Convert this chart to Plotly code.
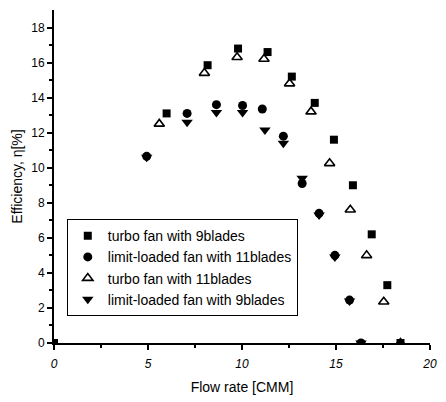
import plotly.graph_objects as go

# turbo fan with 9 blades (filled squares)
turbo9_x = [0.0, 5.99, 8.17, 9.79, 11.36, 12.65, 13.87, 14.89, 15.9, 16.9, 17.73, 18.43]
turbo9_y = [0.0, 13.1, 15.85, 16.8, 16.6, 15.2, 13.7, 11.6, 9.0, 6.2, 3.3, 0.0]

# limit-loaded fan with 11 blades (filled circles)
limit11_x = [4.93, 7.08, 8.64, 10.03, 11.08, 12.2, 13.2, 14.1, 14.94, 15.72, 16.33]
limit11_y = [10.65, 13.1, 13.6, 13.55, 13.35, 11.8, 9.1, 7.4, 5.0, 2.45, 0.0]

# turbo fan with 11 blades (open triangles)
turbo11_x = [5.6, 8.0, 9.74, 11.17, 12.53, 13.67, 14.66, 15.76, 16.63, 17.54, 18.43]
turbo11_y = [12.5, 15.4, 16.3, 16.2, 14.8, 13.2, 10.25, 7.6, 5.0, 2.35, 0.0]

# limit-loaded fan with 9 blades (filled down triangles)
limit9_x = [4.93, 7.08, 8.64, 10.03, 11.22, 12.2, 13.2, 14.1, 14.94, 15.72, 16.33]
limit9_y = [10.6, 12.6, 13.15, 13.15, 12.15, 11.4, 9.4, 7.3, 4.9, 2.4, 0.0]

names = ["turbo fan with 9blades", "limit-loaded fan with 11blades",
         "turbo fan with 11blades", "limit-loaded fan with 9blades"]

FONT = "Liberation Sans, Arial, sans-serif"

fig = go.Figure()
fig.add_trace(go.Scatter(x=turbo9_x, y=turbo9_y, mode="markers", name=names[0],
                         marker=dict(symbol="square", size=8, color="black")))
fig.add_trace(go.Scatter(x=limit11_x, y=limit11_y, mode="markers", name=names[1],
                         marker=dict(symbol="circle", size=9, color="black")))
fig.add_trace(go.Scatter(x=turbo11_x, y=turbo11_y, mode="markers", name=names[2],
                         marker=dict(symbol="triangle-up-open", size=9, color="black",
                                     line=dict(width=1.6, color="black"))))
fig.add_trace(go.Scatter(x=limit9_x, y=limit9_y, mode="markers", name=names[3],
                         marker=dict(symbol="triangle-down", size=10, color="black")))

fig.update_layout(
    width=446, height=402,
    margin=dict(l=54, r=9, t=10, b=53),
    paper_bgcolor="white", plot_bgcolor="white",
    font=dict(family=FONT, color="black", size=12),
    showlegend=True,
    legend=dict(x=0.034, y=0.372, xanchor="left", yanchor="top",
                bgcolor="white", bordercolor="black", borderwidth=1,
                font=dict(size=14, family=FONT), tracegroupgap=0),
    xaxis=dict(range=[0, 20], showgrid=False, zeroline=False,
               showline=True, linecolor="black", linewidth=2,
               ticks="outside", ticklen=5, tickwidth=1.5, tickcolor="black",
               tickvals=[0, 5, 10, 15, 20], ticktext=["<i>0</i>", "<i>5</i>", "<i>10</i>", "<i>15</i>", "<i>20</i>"],
               minor=dict(tickvals=[2.5, 7.5, 12.5, 17.5], ticks="outside", ticklen=3, tickcolor="black"),
               tickfont=dict(size=12), ticklabelstandoff=4,
               title=dict(text="Flow rate [CMM]", font=dict(size=14), standoff=12)),
    yaxis=dict(range=[0, 19], showgrid=False, zeroline=False,
               showline=True, linecolor="black", linewidth=2,
               ticks="outside", ticklen=5, tickwidth=1.5, tickcolor="black",
               tickvals=[0, 2, 4, 6, 8, 10, 12, 14, 16, 18],
               minor=dict(tickvals=[1, 3, 5, 7, 9, 11, 13, 15, 17], ticks="outside", ticklen=3, tickcolor="black"),
               tickfont=dict(size=12),
               title=dict(text="Efficiency, η[%]", font=dict(size=14), standoff=5)),
)

fig.write_html("out.html", config={"displayModeBar": False},
               post_script="document.body.style.margin='0px';")
